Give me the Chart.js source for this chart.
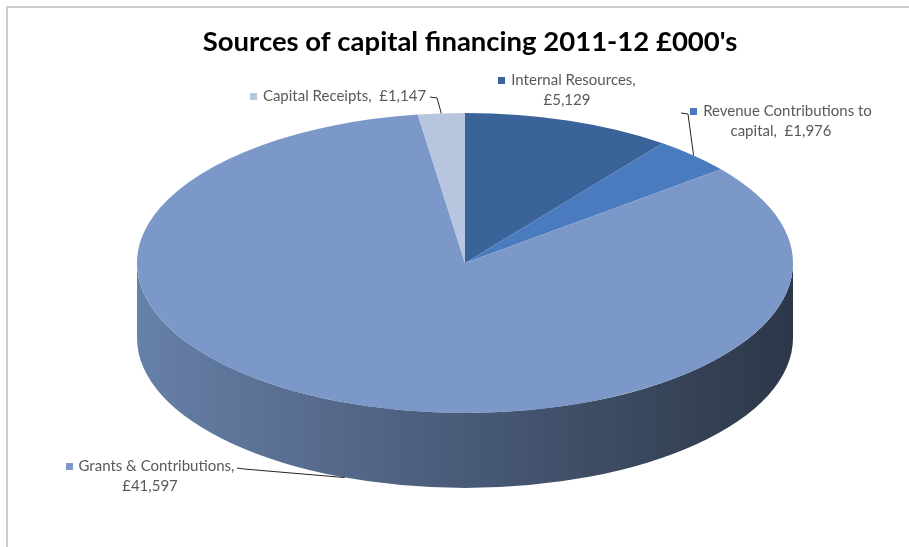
<!DOCTYPE html>
<html>
<head>
<meta charset="utf-8">
<script src="https://cdn.jsdelivr.net/npm/chart.js@4/dist/chart.umd.min.js"></script>
<style>
  html, body { margin: 0; padding: 0; background: #fff; }
  canvas { display: block; }
</style>
</head>
<body>
<canvas id="chartFinanciamento" width="909" height="547"></canvas>
<script>
const titulo = "Sources of capital financing 2011-12 £000's";
const categories = ['Internal Resources', 'Revenue Contributions to capital', 'Grants & Contributions', 'Capital Receipts'];
const amounts = [5129, 1976, 41597, 1147];
const sliceColors = ['#3a6399', '#4a7bbf', '#7b98c8', '#b7c6de'];

// ellipse of the top face and the thickness of the disc
const PIE = { cx: 465, cy: 263, rx: 328, ry: 150, depth: 75 };

// where each data label sits (centre x of the block, first line y)
const labelSpots = [
  { x: 567, y: 80, wrap: 150 },
  { x: 781, y: 111, wrap: 200, leader: [681, 113], drop: 0 },
  { x: 150, y: 466, wrap: 185, leader: [237, 468], drop: 1 },
  { x: 338, y: 96, wrap: 400, leader: [430, 97], drop: 0 }
];

function shade(hex, f) {
  const n = parseInt(hex.slice(1), 16);
  const r = Math.round(((n >> 16) & 255) * f);
  const g = Math.round(((n >> 8) & 255) * f);
  const b = Math.round((n & 255) * f);
  return `rgb(${r}, ${g}, ${b})`;
}

function pontoElipse(angle, drop) {
  return {
    x: PIE.cx + PIE.rx * Math.cos(angle),
    y: PIE.cy + PIE.ry * Math.sin(angle) + (drop ? PIE.depth : 0)
  };
}

function formatarValor(v) {
  return '£' + v.toLocaleString('en-GB');
}

function quebrarLinhas(ctx, name, value, maxWidth) {
  const words = name.split(' ');
  words[words.length - 1] += ',';
  const tokens = words.concat([value]);
  const lines = [];
  let atual = tokens[0];
  for (let i = 1; i < tokens.length; i++) {
    const sep = i === tokens.length - 1 ? '  ' : ' ';
    const teste = atual + sep + tokens[i];
    if (ctx.measureText(teste).width > maxWidth) {
      lines.push(atual);
      atual = tokens[i];
    } else {
      atual = teste;
    }
  }
  lines.push(atual);
  return lines;
}

const pie3d = {
  id: 'pie3d',
  beforeDraw(chart) {
    const ctx = chart.ctx;
    ctx.save();
    ctx.strokeStyle = '#cdcdcd';
    ctx.lineWidth = 2;
    ctx.beginPath();
    ctx.moveTo(7, chart.height);
    ctx.lineTo(7, 7);
    ctx.lineTo(chart.width, 7);
    ctx.stroke();
    ctx.restore();
  },
  beforeDatasetsDraw(chart) {
    const ctx = chart.ctx;
    const arcs = chart.getDatasetMeta(0).data;

    // side wall, only the front half of the disc is visible
    arcs.forEach((arc, i) => {
      const { startAngle, endAngle } = arc.getProps(['startAngle', 'endAngle'], true);
      [[0, Math.PI], [2 * Math.PI, 3 * Math.PI], [-2 * Math.PI, -Math.PI]].forEach(([lo, hi]) => {
        const a0 = Math.max(startAngle, lo);
        const a1 = Math.min(endAngle, hi);
        if (a1 <= a0) return;
        const grad = ctx.createLinearGradient(PIE.cx - PIE.rx, 0, PIE.cx + PIE.rx, 0);
        grad.addColorStop(0, shade(sliceColors[i], 0.84));
        grad.addColorStop(0.45, shade(sliceColors[i], 0.62));
        grad.addColorStop(1, shade(sliceColors[i], 0.36));
        ctx.beginPath();
        ctx.ellipse(PIE.cx, PIE.cy, PIE.rx, PIE.ry, 0, a0, a1);
        ctx.ellipse(PIE.cx, PIE.cy + PIE.depth, PIE.rx, PIE.ry, 0, a1, a0, true);
        ctx.closePath();
        ctx.fillStyle = grad;
        ctx.fill();
      });
    });

    // squash the library's round pie onto the top face
    const a = arcs[0];
    ctx.save();
    ctx.translate(PIE.cx, PIE.cy);
    ctx.scale(PIE.rx / a.outerRadius, PIE.ry / a.outerRadius);
    ctx.translate(-a.x, -a.y);
  },
  afterDatasetsDraw(chart) {
    const ctx = chart.ctx;
    ctx.restore();
    const arcs = chart.getDatasetMeta(0).data;

    ctx.save();
    ctx.font = '15px Lato';
    ctx.textBaseline = 'middle';
    arcs.forEach((arc, i) => {
      const spot = labelSpots[i];
      const lines = quebrarLinhas(ctx, categories[i], formatarValor(amounts[i]), spot.wrap);
      const key = 7, gap = 6;
      lines.forEach((line, k) => {
        const w = ctx.measureText(line).width + (k === 0 ? key + gap : 0);
        let x = spot.x - w / 2;
        const y = spot.y + k * 20;
        if (k === 0) {
          ctx.fillStyle = sliceColors[i];
          ctx.fillRect(Math.round(x), Math.round(y - key / 2), key, key);
          x += key + gap;
        }
        ctx.fillStyle = '#595959';
        ctx.textAlign = 'left';
        ctx.fillText(line, x, y);
      });

      if (spot.leader) {
        const { startAngle, endAngle } = arc.getProps(['startAngle', 'endAngle'], true);
        const alvo = pontoElipse((startAngle + endAngle) / 2, spot.drop);
        const [lx, ly] = spot.leader;
        const dir = alvo.x < lx ? -1 : 1;
        ctx.strokeStyle = '#262626';
        ctx.lineWidth = 1;
        ctx.beginPath();
        ctx.moveTo(lx, ly);
        ctx.lineTo(lx + dir * 7, ly + 1);
        ctx.lineTo(alvo.x, alvo.y);
        ctx.stroke();
      }
    });
    ctx.restore();
  }
};

new Chart(document.getElementById('chartFinanciamento'), {
  type: 'pie',
  data: {
    labels: categories,
    datasets: [{
      data: amounts,
      backgroundColor: sliceColors,
      borderWidth: 0
    }]
  },
  options: {
    responsive: false,
    animation: false,
    layout: { padding: { left: 31 } },
    plugins: {
      legend: { display: false },
      tooltip: { enabled: false },
      title: {
        display: true,
        text: titulo,
        color: '#000',
        font: { family: 'Lato', size: 27.5, weight: 'bold' },
        padding: { top: 26, bottom: 10 }
      }
    }
  },
  plugins: [pie3d]
});
</script>
</body>
</html>
